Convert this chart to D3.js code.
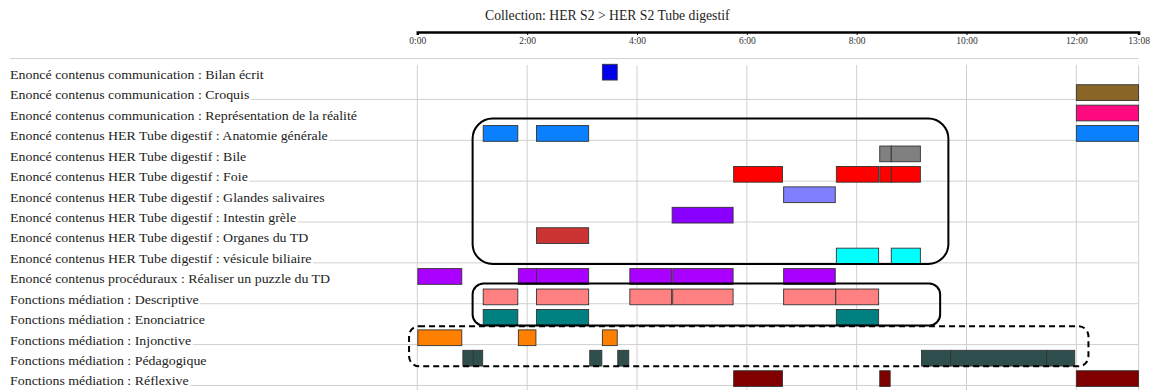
<!DOCTYPE html>
<html>
<head>
<meta charset="utf-8">
<script src="https://cdn.jsdelivr.net/npm/d3@7"></script>
<style>
  html, body { margin: 0; padding: 0; background: #fff; }
  svg { display: block; }
  svg text { font-family: "Liberation Serif", "Times New Roman", Times, serif; }
</style>
</head>
<body>
<svg id="chart" width="1152" height="390"></svg>
<script>
// ---- data (minutes) ----
const title = "Collection: HER S2 > HER S2 Tube digestif";
const categories = [
  "Enoncé contenus communication : Bilan écrit",
  "Enoncé contenus communication : Croquis",
  "Enoncé contenus communication : Représentation de la réalité",
  "Enoncé contenus HER Tube digestif : Anatomie générale",
  "Enoncé contenus HER Tube digestif : Bile",
  "Enoncé contenus HER Tube digestif : Foie",
  "Enoncé contenus HER Tube digestif : Glandes salivaires",
  "Enoncé contenus HER Tube digestif : Intestin grèle",
  "Enoncé contenus HER Tube digestif : Organes du TD",
  "Enoncé contenus HER Tube digestif : vésicule biliaire",
  "Enoncé contenus procéduraux : Réaliser un puzzle du TD",
  "Fonctions médiation : Descriptive",
  "Fonctions médiation : Enonciatrice",
  "Fonctions médiation : Injonctive",
  "Fonctions médiation : Pédagogique",
  "Fonctions médiation : Réflexive"
];
const colors = [
  "#0000ee", "#8b6528", "#ff0a80", "#0a80ff", "#808080", "#ff0000",
  "#8080ff", "#8a00ff", "#cc3333", "#00ffff", "#aa00ff", "#ff8080",
  "#008080", "#ff8000", "#2f4f4f", "#800000"
];
const segments = [
  [[3.37, 3.64]],
  [[12.0, 13.133]],
  [[12.0, 13.133]],
  [[1.20, 1.83], [2.17, 3.12], [12.0, 13.133]],
  [[8.42, 8.63], [8.63, 9.16]],
  [[5.76, 6.65], [7.63, 8.40], [8.42, 8.63], [8.63, 9.16]],
  [[6.67, 7.61]],
  [[4.64, 5.75]],
  [[2.17, 3.12]],
  [[7.63, 8.40], [8.63, 9.16]],
  [[0.01, 0.81], [1.84, 2.17], [2.17, 3.12], [3.87, 4.63], [4.65, 5.75], [6.67, 7.61]],
  [[1.20, 1.83], [2.17, 3.12], [3.87, 4.63], [4.65, 5.75], [6.67, 7.62], [7.62, 8.40]],
  [[1.20, 1.83], [2.17, 3.12], [7.63, 8.40]],
  [[0.01, 0.81], [1.84, 2.16], [3.37, 3.64]],
  [[0.83, 1.02], [1.02, 1.19], [3.14, 3.36], [3.65, 3.85], [9.18, 9.71], [9.71, 11.46], [11.46, 11.97]],
  [[5.76, 6.65], [8.42, 8.61], [12.0, 13.133]]
];
const tickValues = [0, 2, 4, 6, 8, 10, 12, 13 + 8 / 60];
const tickLabels = ["0:00", "2:00", "4:00", "6:00", "8:00", "10:00", "12:00", "13:08"];
const totalMinutes = 13 + 8 / 60;
// annotation boxes: [startMinute, endMinute, firstRow, lastRow, dashed]
const boxes = [
  [1.007, 9.67, 3, 9, false],
  [1.007, 9.52, 11, 12, false],
  [-0.15, 12.22, 13, 14, true]
];

// ---- scales ----
const svg = d3.select("#chart");
const x = d3.scaleLinear().domain([0, totalMinutes]).range([417.3, 1138.6]);
const step = 20.43, gap = 4.7;
const y = d3.scaleBand().domain(categories)
  .range([64.3, 64.3 + categories.length * step - gap])
  .paddingInner(gap / step).paddingOuter(0);

const FONT = "'Liberation Serif', 'Times New Roman', Times, serif";

// title
svg.append("text").attr("x", 485).attr("y", 20).attr("font-family", FONT)
  .attr("font-size", 13.7).attr("fill", "#222").text(title);

// axis
const axis = d3.axisBottom(x).tickValues(tickValues)
  .tickFormat((d, i) => tickLabels[i]).tickSize(3).tickSizeOuter(3).tickPadding(2);
const ax = svg.append("g").attr("transform", "translate(0,32)").call(axis);
ax.attr("font-family", FONT);
ax.select(".domain").attr("stroke", "#000").attr("stroke-width", 2.5);
ax.selectAll(".tick line").attr("stroke", "#000");
ax.selectAll(".tick text").attr("font-family", FONT)
  .attr("font-size", 9.5).attr("fill", "#333");

// horizontal gridlines at baseline of odd rows
const baseOff = 14.7;
const hLines = [-1];
for (let i = 1; i < categories.length; i += 2) hLines.push(i);
svg.append("g").selectAll("line").data(hLines).join("line")
  .attr("x1", 10).attr("x2", x(totalMinutes))
  .attr("y1", i => y(categories[0]) + i * y.step() + baseOff)
  .attr("y2", i => y(categories[0]) + i * y.step() + baseOff)
  .attr("stroke", "#d0d0d0").attr("stroke-width", 1);

// vertical gridlines
svg.append("g").selectAll("line").data(tickValues).join("line")
  .attr("x1", d => x(d)).attr("x2", d => x(d))
  .attr("y1", 65).attr("y2", 390)
  .attr("stroke", "#d0d0d0").attr("stroke-width", 1);

// labels with white background (slightly widened like the reference)
const lab = svg.append("g").selectAll("g").data(categories).join("g")
  .attr("transform", "translate(10,0) scale(1.07,1)");
const txt = lab.append("text").attr("x", 0).attr("y", d => y(d) + baseOff)
  .attr("font-family", FONT)
  .attr("font-size", 13).attr("fill", "#222").text(d => d);
txt.each(function () {
  const b = this.getBBox();
  d3.select(this.parentNode).insert("rect", "text")
    .attr("x", b.x).attr("y", b.y).attr("width", b.width + 1.5).attr("height", b.height)
    .attr("fill", "#fff");
});

// bars
const flat = [];
segments.forEach((segs, i) => segs.forEach(s => flat.push({ cat: categories[i], c: colors[i], s: s[0], e: s[1] })));
svg.append("g").selectAll("rect").data(flat).join("rect")
  .attr("x", d => x(d.s)).attr("width", d => x(d.e) - x(d.s))
  .attr("y", d => y(d.cat)).attr("height", y.bandwidth())
  .attr("fill", d => d.c).attr("stroke", "#333").attr("stroke-width", 0.9);

// annotation boxes (top padding, bottom padding, corner radius per box)
const boxStyle = [[7, 0, 20], [5.5, 0.2, 11], [3.7, 0.3, 10]];
svg.append("g").selectAll("rect").data(boxes).join("rect")
  .each(function (d, i) {
    const [pt, pb, r] = boxStyle[i];
    const top = y(categories[d[2]]) - pt;
    const bot = y(categories[d[3]]) + y.bandwidth() + pb;
    d3.select(this)
      .attr("x", x(d[0])).attr("width", x(d[1]) - x(d[0]))
      .attr("y", top).attr("height", bot - top)
      .attr("rx", r).attr("ry", r);
  })
  .attr("fill", "none").attr("stroke", "#000").attr("stroke-width", 2)
  .attr("stroke-dasharray", d => d[4] ? "6,4" : null);
</script>
</body>
</html>
